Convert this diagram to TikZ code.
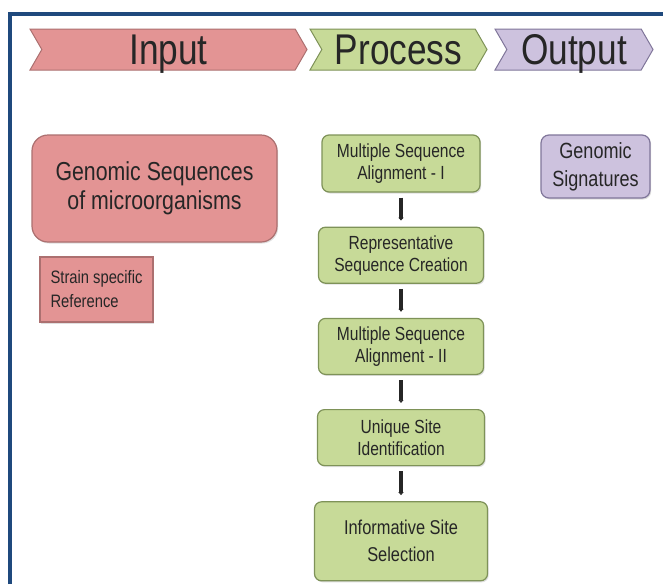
\documentclass[tikz,border=0pt]{standalone}
\usepackage{fontspec}
\setmainfont{Liberation Sans}
\newfontfamily\narrowsf[FakeStretch=0.82]{Liberation Sans}
\usetikzlibrary{positioning, shapes, shadows, arrows.meta}

\definecolor{inred}{RGB}{227,148,148}
\definecolor{inredline}{RGB}{172,112,112}
\definecolor{procgreen}{RGB}{199,218,152}
\definecolor{procline}{RGB}{126,146,88}
\definecolor{outlilac}{RGB}{205,194,222}
\definecolor{outlilacline}{RGB}{128,118,154}
\definecolor{framebl}{RGB}{31,73,125}
\definecolor{ink}{RGB}{38,38,38}

\begin{document}
\begin{tikzpicture}[x=1pt,y=-1pt,
  stage/.style={signal, signal from=west, signal to=east, signal pointer angle=120,
    minimum height=41pt, inner sep=0pt, text height=32pt, text depth=3pt,
    line width=1pt, text=ink, font=\narrowsf\fontsize{43}{48}\selectfont},
  boxshade/.style={drop shadow={opacity=0.25, shadow xshift=1.2pt, shadow yshift=-1.5pt}},
  procbox/.style={rounded corners=7pt, draw=procline, fill=procgreen, line width=1.2pt,
    minimum width=165pt, minimum height=56pt, align=center, text=ink, boxshade,
    font=\narrowsf\fontsize{19}{22}\selectfont},
  flowline/.style={line width=3.2pt, ink, -{Latex[length=3pt,width=6pt]},
    shorten <=5pt, shorten >=6pt}]
\useasboundingbox (0,0) rectangle (663,584);
\fill[white] (0,0) rectangle (663,584);
\draw[framebl, line width=4pt] (10,584) -- (10,14) -- (663,14);

% stages
\node[stage, fill=inred, draw=inredline, minimum width=277pt] (input) at (168.5,49.5) {Input};
\node[stage, fill=procgreen, draw=procline, minimum width=177pt] (process) at (398.5,49.5) {Process};
\node[stage, fill=outlilac, draw=outlilacline, minimum width=158pt] (output) at (574,49.5) {Output};

% input side
\node[rounded corners=16pt, draw=inredline, fill=inred, line width=1.2pt, boxshade,
  minimum width=245pt, minimum height=107pt, align=center, text=ink,
  font=\narrowsf\fontsize{26}{29}\selectfont] (genseq) at (154.5,188.5)
  {Genomic Sequences\\of microorganisms};
\node[draw=inredline, fill=inred, line width=1.2pt, boxshade,
  minimum width=113pt, minimum height=65pt, align=left, text=ink,
  font=\narrowsf\fontsize{18}{24}\selectfont] (strain) at (96.5,289.5)
  {Strain specific\\Reference};

% process steps
\node[procbox, minimum width=158pt, minimum height=57pt] (msa1) at (401,163.5)
  {Multiple Sequence\\Alignment - I};
\node[procbox, below=34pt of msa1] (rep) {Representative\\Sequence Creation};
\node[procbox, below=34pt of rep] (msa2) {Multiple Sequence\\Alignment - II};
\node[procbox, below=34pt of msa2, minimum width=167pt] (uniq) {Unique Site\\Identification};
\node[procbox, below=35pt of uniq, minimum width=173pt, minimum height=79pt,
  font=\narrowsf\fontsize{20}{27}\selectfont] (info) {Informative Site\\Selection};
\foreach \a/\b in {msa1/rep, rep/msa2, msa2/uniq, uniq/info}
  \draw[flowline] (\a.south) -- (\b.north);

% output side
\node[rounded corners=8pt, draw=outlilacline, fill=outlilac, line width=1.2pt, boxshade,
  minimum width=109pt, minimum height=63pt, align=center, text=ink,
  font=\narrowsf\fontsize{22}{28}\selectfont] (sign) at (595.5,166.5)
  {Genomic\\Signatures};
\end{tikzpicture}
\end{document}
